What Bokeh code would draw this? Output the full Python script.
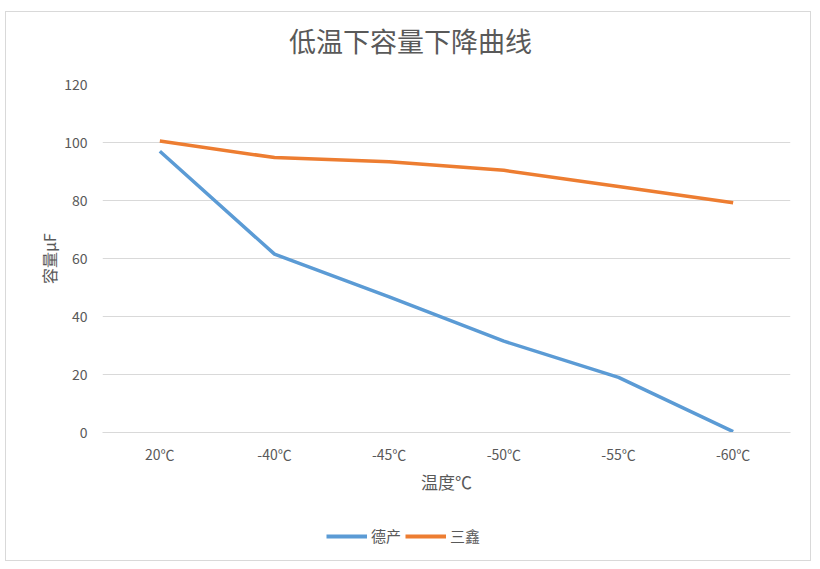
from bokeh.plotting import figure
from bokeh.models import FactorRange, Range1d, Legend, LegendItem, Label
from bokeh.layouts import column
from bokeh.embed import file_html
from bokeh.resources import INLINE

categories = ["20℃", "-40℃", "-45℃", "-50℃", "-55℃", "-60℃"]
series_names = ["德产", "三鑫"]
series_colors = ["#5B9BD5", "#ED7D31"]
depr_values = [97.0, 61.5, 46.8, 31.5, 19.0, 0.3]
sanxin_values = [100.5, 94.8, 93.4, 90.4, 84.8, 79.2]
y_ticks = [0, 20, 40, 60, 80, 100, 120]
title_text = "低温下容量下降曲线"

FONT = "Noto Sans CJK SC"
GRAY = "#595959"
EDGE = "1px solid #d9d9d9"

# title strip
pt = figure(
    width=806, height=63,
    x_range=Range1d(0, 1), y_range=Range1d(0, 1),
    output_backend="svg", toolbar_location=None,
    x_axis_location=None, y_axis_location=None,
    min_border=0,
)
pt.styles = {"border-left": EDGE, "border-right": EDGE, "border-top": EDGE}
pt.outline_line_color = None
pt.grid.visible = False
pt.background_fill_color = "white"
pt.border_fill_color = "white"
pt.add_layout(Label(x=0.4477, y=0.556, text=title_text, text_align="center",
                    text_baseline="middle", text_font=FONT, text_font_size="27px",
                    text_color=GRAY))

# main chart
p = figure(
    width=806, height=430,
    x_range=FactorRange(*categories, range_padding=0),
    y_range=Range1d(0, 120),
    output_backend="svg", toolbar_location=None,
    min_border_left=96, min_border_right=22,
    min_border_top=10, min_border_bottom=72,
)
p.styles = {"border-left": EDGE, "border-right": EDGE}
p.outline_line_color = None
p.background_fill_color = "white"
p.border_fill_color = "white"

p.line(categories, depr_values, line_color=series_colors[0], line_width=3.5)
p.line(categories, sanxin_values, line_color=series_colors[1], line_width=3.5)

p.xgrid.grid_line_color = None
p.ygrid.grid_line_color = "#d9d9d9"
p.ygrid.grid_line_width = 1

p.yaxis.ticker = y_ticks
p.yaxis.axis_line_color = None
p.yaxis.major_tick_line_color = None
p.yaxis.minor_tick_line_color = None
p.yaxis.major_label_text_font = FONT
p.yaxis.major_label_text_font_size = "14px"
p.yaxis.major_label_text_color = GRAY
p.yaxis.major_label_standoff = 9
p.yaxis.axis_label = "容量μF"
p.yaxis.axis_label_text_font = FONT
p.yaxis.axis_label_text_font_size = "16px"
p.yaxis.axis_label_text_font_style = "normal"
p.yaxis.axis_label_text_color = GRAY
p.yaxis.axis_label_standoff = 0

p.xaxis.axis_line_color = "#d9d9d9"
p.xaxis.major_tick_line_color = None
p.xaxis.minor_tick_line_color = None
p.xaxis.major_label_text_font = FONT
p.xaxis.major_label_text_font_size = "14px"
p.xaxis.major_label_text_color = GRAY
p.xaxis.major_label_standoff = 5
p.xaxis.axis_label = "温度℃"
p.xaxis.axis_label_text_font = FONT
p.xaxis.axis_label_text_font_size = "17px"
p.xaxis.axis_label_text_font_style = "normal"
p.xaxis.axis_label_text_color = GRAY
p.xaxis.axis_label_standoff = 2

# legend strip below the chart (series drawn out of view, only the legend shows)
p2 = figure(
    width=806, height=57,
    x_range=FactorRange(*categories, range_padding=0), y_range=Range1d(1000, 1001),
    output_backend="svg", toolbar_location=None,
    x_axis_location=None, y_axis_location=None,
    min_border=0,
)
p2.styles = {"border-left": EDGE, "border-right": EDGE, "border-bottom": EDGE}
p2.outline_line_color = None
p2.grid.visible = False
p2.background_fill_color = "white"
p2.border_fill_color = "white"
k1 = p2.line(categories, depr_values, line_color=series_colors[0], line_width=4)
k2 = p2.line(categories, sanxin_values, line_color=series_colors[1], line_width=4)

legend = Legend(
    items=[LegendItem(label=series_names[0], renderers=[k1]),
           LegendItem(label=series_names[1], renderers=[k2])],
    orientation="horizontal",
    location=(224, 15),
    glyph_width=41, glyph_height=20, label_standoff=4, spacing=4,
    padding=0, margin=0,
    border_line_color=None, background_fill_alpha=0,
    label_text_font=FONT, label_text_font_size="15px", label_text_color=GRAY,
)
p2.add_layout(legend, "center")

layout = column(pt, p, p2, spacing=0, styles={"margin-left": "5px", "margin-top": "11px"})

open("out.html", "w").write(file_html(layout, INLINE))
